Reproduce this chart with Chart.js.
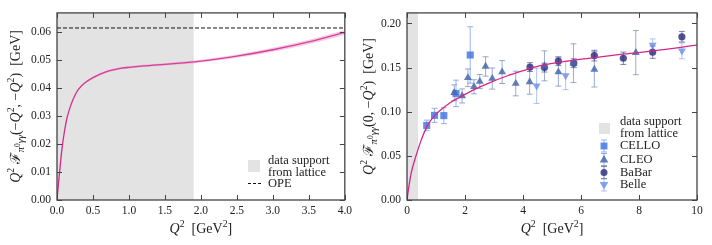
<!DOCTYPE html>
<html>
<head>
<meta charset="utf-8">
<script src="https://cdn.jsdelivr.net/npm/chart.js@4.4.1/dist/chart.umd.min.js"></script>
<style>
    html, body { margin: 0; padding: 0; background: #fff; }
    #wrap { position: relative; width: 712px; height: 245px; }
    .panel { position: absolute; top: 0; width: 356px; height: 245px; }
</style>
</head>
<body>
<div id="wrap">
    <div class="panel" style="left:0"><canvas id="leftChart" width="356" height="245"></canvas></div>
    <div class="panel" style="left:356px"><canvas id="rightChart" width="356" height="245"></canvas></div>
</div>
<script>
    // left panel: Q^2 F(-Q^2,-Q^2)
    const leftQ2 = [0, 0.02, 0.04, 0.07, 0.1, 0.14, 0.2, 0.25, 0.3, 0.4, 0.5, 0.6, 0.7, 0.8, 0.9, 1.0, 1.2, 1.5, 1.75, 2.0, 2.5, 3.0, 3.5, 4.0];
    const leftCurve = [0, 0.0058, 0.011, 0.0185, 0.024, 0.0295, 0.0345, 0.0375, 0.0397, 0.0422, 0.0438, 0.0451, 0.0461, 0.0467, 0.0472, 0.0475, 0.0480, 0.0486, 0.0491, 0.0497, 0.0515, 0.0538, 0.0566, 0.0600];
    const leftBand = [0, 0, 0, 0.0001, 0.0001, 0.0002, 0.0002, 0.0003, 0.0003, 0.0003, 0.0004, 0.0004, 0.0004, 0.0004, 0.0004, 0.0004, 0.0004, 0.0004, 0.0005, 0.0005, 0.0006, 0.0007, 0.0008, 0.0009];
    const opeValue = 0.0616;
    const leftLattice = [0, 1.9];
    const leftXTicks = [0, 0.5, 1.0, 1.5, 2.0, 2.5, 3.0, 3.5, 4.0];
    const leftYTicks = [0, 0.01, 0.02, 0.03, 0.04, 0.05, 0.06];

    // right panel: Q^2 F(0,-Q^2)
    const rightQ2 = [0, 0.05, 0.14, 0.31, 0.48, 0.7, 0.92, 1.18, 1.5, 1.82, 2.28, 2.8, 3.44, 4.0, 4.59, 5.5, 6.55, 7.5, 8.5, 10];
    const rightCurve = [0, 0.012, 0.030, 0.050, 0.067, 0.084, 0.0945, 0.1025, 0.1105, 0.1165, 0.1245, 0.1322, 0.1405, 0.1465, 0.1522, 0.1573, 0.1617, 0.1655, 0.169, 0.1755];
    const rightLattice = [0, 0.38];
    const rightXTicks = [0, 2, 4, 6, 8, 10];
    const rightYTicks = [0, 0.05, 0.10, 0.15, 0.20];

    const celloQ2 = [0.68, 0.95, 1.27, 1.69, 2.18];
    const celloVal = [0.0845, 0.0959, 0.0956, 0.1208, 0.1643];
    const celloErr = [0.006, 0.008, 0.009, 0.015, 0.032];

    const cleoQ2 = [1.63, 1.90, 2.10, 2.31, 2.51, 2.71, 2.94, 3.28, 3.75, 4.23, 4.74, 5.22, 5.74, 6.46, 7.89];
    const cleoVal = [0.1215, 0.1179, 0.1385, 0.1283, 0.1342, 0.1513, 0.1376, 0.145, 0.132, 0.1339, 0.152, 0.145, 0.155, 0.148, 0.167];
    const cleoErr = [0.009, 0.008, 0.010, 0.008, 0.008, 0.011, 0.012, 0.013, 0.014, 0.014, 0.017, 0.016, 0.022, 0.020, 0.025];

    const babarQ2 = [4.24, 4.74, 5.22, 5.75, 6.46, 7.46, 8.47, 9.48];
    const babarVal = [0.1506, 0.150, 0.1573, 0.155, 0.1636, 0.1606, 0.1675, 0.185];
    const babarErr = [0.005, 0.005, 0.005, 0.005, 0.006, 0.007, 0.007, 0.006];

    const belleQ2 = [4.47, 5.47, 8.47, 9.48];
    const belleVal = [0.1294, 0.141, 0.1755, 0.169];
    const belleErr = [0.020, 0.016, 0.007, 0.009];

    const SERIF = '"Liberation Serif", "DejaVu Serif", serif';
    const TEXT = '#222';
    const MAGENTA = '#d4268a';
    const SHADE = '#e3e3e3';

    const colors = {
        cello: { fill: 'rgba(70,120,225,0.85)', bar: 'rgba(70,120,225,0.55)' },
        cleo: { fill: 'rgba(72,104,170,0.85)', bar: 'rgba(72,104,170,0.55)' },
        babar: { fill: 'rgba(50,52,128,0.85)', bar: 'rgba(50,52,128,0.6)' },
        belle: { fill: 'rgba(112,148,232,0.85)', bar: 'rgba(112,148,232,0.55)' }
    };

    function pts(xs, ys) {
        return xs.map((x, i) => ({ x: x, y: ys[i] }));
    }

    // rich text: [text, kind]
    function runs(ctx, segs, size) {
        return segs.map(([t, k]) => {
            let s = size, dy = 0, it = false;
            if (k === 'i') it = true;
            if (k === 'sup') { s = size * 0.7; dy = -size * 0.38; }
            if (k === 'sub') { s = size * 0.75; dy = size * 0.28; it = true; }
            if (k === 'subsup') { s = size * 0.55; dy = size * 0.02; }
            const font = (it ? 'italic ' : '') + s.toFixed(1) + 'px ' + SERIF;
            ctx.font = font;
            return { t: t, font: font, dy: dy, w: ctx.measureText(t).width };
        });
    }

    function drawRich(ctx, segs, size, cx, cy, rotate) {
        ctx.save();
        ctx.translate(cx, cy);
        if (rotate) ctx.rotate(-Math.PI / 2);
        const rs = runs(ctx, segs, size);
        const total = rs.reduce((a, r) => a + r.w, 0);
        let x = -total / 2;
        ctx.fillStyle = TEXT;
        ctx.textBaseline = 'alphabetic';
        ctx.textAlign = 'left';
        rs.forEach(r => {
            ctx.font = r.font;
            ctx.fillText(r.t, x, size * 0.33 + r.dy);
            x += r.w;
        });
        ctx.restore();
    }

    function marker(ctx, style, x, y, r, fill) {
        ctx.save();
        ctx.fillStyle = fill;
        ctx.beginPath();
        if (style === 'rect') {
            ctx.rect(x - r * 0.75, y - r * 0.75, r * 1.5, r * 1.5);
        } else if (style === 'circle') {
            ctx.arc(x, y, r * 0.8, 0, Math.PI * 2);
        } else {
            const d = style === 'down' ? -1 : 1;
            ctx.moveTo(x, y - d * r);
            ctx.lineTo(x - r * 0.95, y + d * r * 0.65);
            ctx.lineTo(x + r * 0.95, y + d * r * 0.65);
            ctx.closePath();
        }
        ctx.fill();
        ctx.restore();
    }

    function errBar(ctx, x, yTop, yBot, color) {
        ctx.save();
        ctx.strokeStyle = color;
        ctx.lineWidth = 1;
        ctx.beginPath();
        ctx.moveTo(x, yTop); ctx.lineTo(x, yBot);
        ctx.moveTo(x - 3, yTop); ctx.lineTo(x + 3, yTop);
        ctx.moveTo(x - 3, yBot); ctx.lineTo(x + 3, yBot);
        ctx.stroke();
        ctx.restore();
    }

    const framePlugin = {
        id: 'frame',
        beforeDatasetsDraw(chart, args, opts) {
            const { ctx, chartArea: a, scales } = chart;
            const x0 = scales.x.getPixelForValue(opts.lattice[0]);
            const x1 = scales.x.getPixelForValue(opts.lattice[1]);
            ctx.save();
            ctx.fillStyle = SHADE;
            ctx.fillRect(x0, a.top, x1 - x0, a.bottom - a.top);
            ctx.restore();
            // error bars below markers
            chart.data.datasets.forEach(ds => {
                if (!ds.yErr) return;
                ds.data.forEach((p, i) => {
                    const px = scales.x.getPixelForValue(p.x);
                    errBar(ctx, px, scales.y.getPixelForValue(p.y + ds.yErr[i]), scales.y.getPixelForValue(p.y - ds.yErr[i]), ds.barColor);
                });
            });
        },
        afterDatasetsDraw(chart, args, opts) {
            const { ctx, chartArea: a, scales } = chart;
            ctx.save();
            ctx.strokeStyle = '#444';
            ctx.lineWidth = 1;
            ctx.beginPath();
            opts.xTicks.forEach(v => {
                const px = Math.round(scales.x.getPixelForValue(v)) + 0.5;
                ctx.moveTo(px, a.bottom); ctx.lineTo(px, a.bottom - 5);
                ctx.moveTo(px, a.top); ctx.lineTo(px, a.top + 5);
            });
            opts.yTicks.forEach(v => {
                const py = Math.round(scales.y.getPixelForValue(v)) + 0.5;
                ctx.moveTo(a.left, py); ctx.lineTo(a.left + 5, py);
                ctx.moveTo(a.right, py); ctx.lineTo(a.right - 5, py);
            });
            ctx.stroke();
            ctx.lineWidth = 1.3;
            ctx.strokeRect(a.left, a.top, a.right - a.left, a.bottom - a.top);
            ctx.restore();

            drawRich(ctx, opts.xTitle, 14, (a.left + a.right) / 2, 228, false);
            drawRich(ctx, opts.yTitle, 14, opts.yTitleX, (a.top + a.bottom) / 2, true);
            opts.legend(ctx);
        }
    };

    function axes(xMin, xMax, xStep, xDigits, yMax, yStep, yAxisWidth) {
        const tickFont = { family: SERIF, size: 11.5 };
        return {
            x: {
                type: 'linear', min: xMin, max: xMax,
                grid: { display: false, drawTicks: false }, border: { display: false },
                ticks: { stepSize: xStep, includeBounds: false, font: tickFont, color: TEXT, padding: 4, maxRotation: 0,
                    callback: v => v.toFixed(xDigits) },
                afterFit: s => { s.height = 45; }
            },
            y: {
                type: 'linear', min: 0, max: yMax,
                grid: { display: false, drawTicks: false }, border: { display: false },
                ticks: { stepSize: yStep, includeBounds: false, font: tickFont, color: TEXT, padding: 6,
                    callback: v => v.toFixed(2) },
                afterFit: s => { s.width = yAxisWidth; }
            }
        };
    }

    const qSq = [['Q', 'i'], ['2', 'sup']];
    const xTitle = qSq.concat([['  [GeV', 'n'], ['2', 'sup'], [']', 'n']]);
    const formFactor = [[' ', 'n'], ['\u2131', 'n'], ['\u03c0', 'sub'], ['0', 'subsup'], ['\u03b3\u03b3', 'sub']];

    new Chart(document.getElementById('leftChart'), {
        type: 'line',
        data: {
            datasets: [
                { data: pts(leftQ2, leftCurve.map((v, i) => v - leftBand[i])), borderWidth: 0, pointRadius: 0, cubicInterpolationMode: 'monotone', fill: false },
                { data: pts(leftQ2, leftCurve.map((v, i) => v + leftBand[i])), borderWidth: 0, pointRadius: 0, cubicInterpolationMode: 'monotone', fill: '-1', backgroundColor: 'rgba(226,110,180,0.35)' },
                { data: pts(leftQ2, leftCurve), borderColor: MAGENTA, borderWidth: 1.3, pointRadius: 0, cubicInterpolationMode: 'monotone', fill: false },
                { data: pts([0, 4], [opeValue, opeValue]), borderColor: '#111', borderWidth: 1, borderDash: [4, 2], pointRadius: 0, fill: false }
            ]
        },
        options: {
            responsive: false, animation: false, devicePixelRatio: 1,
            layout: { padding: { top: 10, right: 11, left: 0, bottom: 0 } },
            plugins: {
                legend: { display: false }, tooltip: { enabled: false },
                frame: {
                    lattice: leftLattice, xTicks: leftXTicks, yTicks: leftYTicks,
                    xTitle: xTitle,
                    yTitle: qSq.concat(formFactor, [['(\u2212', 'n'], ['Q', 'i'], ['2', 'sup'], [', \u2212', 'n'], ['Q', 'i'], ['2', 'sup'], [')  [GeV]', 'n']]),
                    yTitleX: 15,
                    legend: ctx => {
                        ctx.save();
                        ctx.fillStyle = SHADE;
                        ctx.fillRect(248, 160, 12, 12);
                        ctx.strokeStyle = '#111';
                        ctx.setLineDash([3, 2]);
                        ctx.beginPath(); ctx.moveTo(248, 183.5); ctx.lineTo(262, 183.5); ctx.stroke();
                        ctx.fillStyle = TEXT;
                        ctx.font = '12.5px ' + SERIF;
                        ctx.textBaseline = 'middle';
                        ctx.fillText('data support', 268, 161);
                        ctx.fillText('from lattice', 268, 172.5);
                        ctx.fillText('OPE', 268, 184);
                        ctx.restore();
                    }
                }
            },
            scales: axes(0, 4, 0.5, 1, 0.067, 0.01, 57)
        },
        plugins: [framePlugin]
    });

    function expSet(xs, ys, errs, style, c) {
        return {
            data: pts(xs, ys), yErr: errs, barColor: c.bar, showLine: false,
            pointStyle: style === 'down' ? 'triangle' : style, rotation: style === 'down' ? 180 : 0,
            pointRadius: style === 'circle' ? 3.6 : (style === 'rect' ? 5 : 4.6),
            pointBackgroundColor: c.fill, pointBorderWidth: 0, borderWidth: 0
        };
    }

    new Chart(document.getElementById('rightChart'), {
        type: 'line',
        data: {
            datasets: [
                { data: pts(rightQ2, rightCurve), borderColor: MAGENTA, borderWidth: 1.3, pointRadius: 0, cubicInterpolationMode: 'monotone', fill: false },
                expSet(cleoQ2, cleoVal, cleoErr, 'triangle', colors.cleo),
                expSet(belleQ2, belleVal, belleErr, 'down', colors.belle),
                expSet(celloQ2, celloVal, celloErr, 'rect', colors.cello),
                expSet(babarQ2, babarVal, babarErr, 'circle', colors.babar)
            ]
        },
        options: {
            responsive: false, animation: false, devicePixelRatio: 1,
            layout: { padding: { top: 10, right: 15, left: 0, bottom: 0 } },
            plugins: {
                legend: { display: false }, tooltip: { enabled: false },
                frame: {
                    lattice: rightLattice, xTicks: rightXTicks, yTicks: rightYTicks,
                    xTitle: xTitle,
                    yTitle: qSq.concat(formFactor, [['(0, \u2212', 'n'], ['Q', 'i'], ['2', 'sup'], [')  [GeV]', 'n']]),
                    yTitleX: 12,
                    legend: ctx => {
                        const mx = 248;
                        ctx.save();
                        ctx.fillStyle = SHADE;
                        ctx.fillRect(mx - 5, 123, 11, 11);
                        const items = [['CELLO', 'rect', colors.cello, 146], ['CLEO', 'triangle', colors.cleo, 159.5],
                            ['BaBar', 'circle', colors.babar, 172.5], ['Belle', 'down', colors.belle, 185]];
                        items.forEach(([name, style, c, y]) => {
                            errBar(ctx, mx, y - 6, y + 6, c.bar);
                            marker(ctx, style, mx, y, style === 'circle' ? 4.4 : 4.6, c.fill);
                        });
                        ctx.fillStyle = TEXT;
                        ctx.font = '12.5px ' + SERIF;
                        ctx.textBaseline = 'middle';
                        ctx.fillText('data support', 264, 122);
                        ctx.fillText('from lattice', 264, 134);
                        items.forEach(([name, style, c, y]) => ctx.fillText(name, 264, y));
                        ctx.restore();
                    }
                }
            },
            scales: axes(0, 10, 2, 0, 0.212, 0.05, 51)
        },
        plugins: [framePlugin]
    });
</script>
</body>
</html>
